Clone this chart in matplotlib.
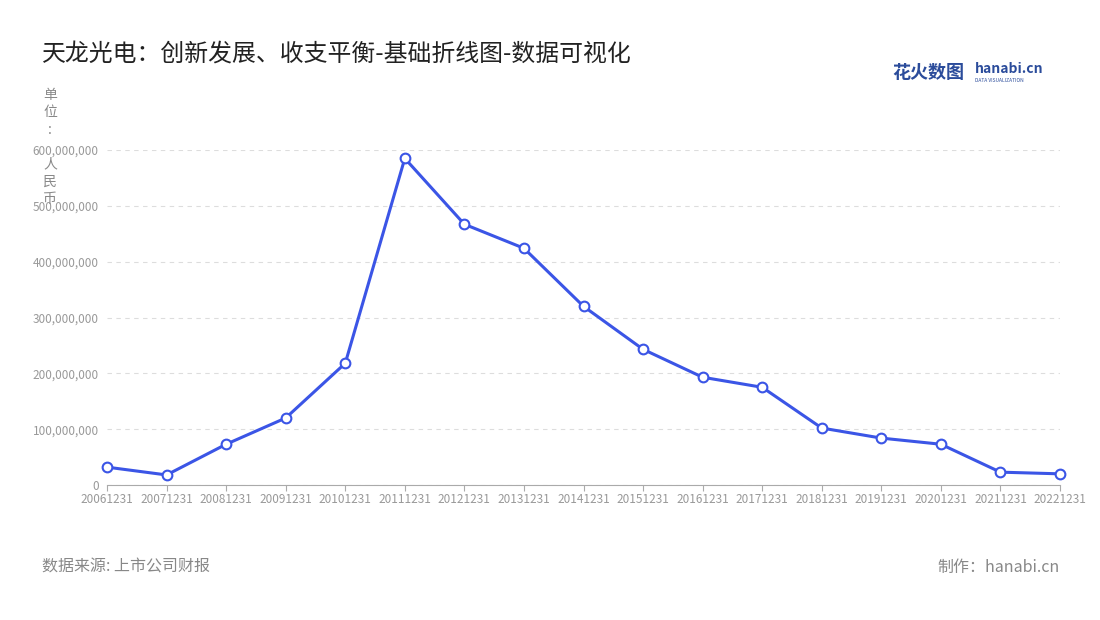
import matplotlib.pyplot as plt

plt.rcParams['font.family'] = ['Noto Sans CJK SC', 'DejaVu Sans']

dates = ["20061231", "20071231", "20081231", "20091231", "20101231", "20111231",
         "20121231", "20131231", "20141231", "20151231", "20161231", "20171231",
         "20181231", "20191231", "20201231", "20211231", "20221231"]
values = [32e6, 18e6, 73e6, 120e6, 218e6, 585e6, 467e6, 424e6, 320e6, 243e6,
          193e6, 175e6, 102e6, 84e6, 73e6, 23e6, 20e6]

fig = plt.figure(figsize=(11, 6.2), dpi=100)
ax = fig.add_axes([107 / 1100, 1 - 485 / 620, (1060 - 107) / 1100, (485 - 150) / 620])

x = list(range(len(dates)))
ax.plot(x, values, color="#3b55e6", lw=2.2, marker="o", ms=7,
        mfc="white", mec="#3b55e6", mew=1.5, zorder=3, clip_on=False)

ax.set_xlim(0, len(dates) - 1)
ax.set_ylim(0, 600e6)
ax.set_xticks(x)
ax.set_xticklabels(dates, fontsize=8.5, color="#999999")
ax.set_yticks([0, 100e6, 200e6, 300e6, 400e6, 500e6, 600e6])
ax.set_yticklabels(["0", "100,000,000", "200,000,000", "300,000,000",
                    "400,000,000", "500,000,000", "600,000,000"],
                   fontsize=8.5, color="#999999")
ax.grid(axis="y", color="#dddddd", ls=(0, (4, 4)), lw=0.8)
for s in ["top", "right", "left"]:
    ax.spines[s].set_visible(False)
ax.spines["bottom"].set_color("#aaaaaa")
ax.tick_params(axis="y", length=0, pad=6)
ax.tick_params(axis="x", length=4, color="#aaaaaa", pad=2)

fig.text(42 / 1100, 1 - 55 / 620, "天龙光电：创新发展、收支平衡-基础折线图-数据可视化",
         fontsize=17.2, color="#222222", va="center")
fig.text(50 / 1100, 1 - 88 / 620, "单\n位\n:\n\n人\n民\n币", fontsize=10,
         color="#888888", va="top", ha="center", linespacing=1.3)
fig.text(42 / 1100, 1 - 567 / 620, "数据来源: 上市公司财报", fontsize=11.5,
         color="#888888", va="center")
fig.text(1060 / 1100, 1 - 567 / 620, "制作：hanabi.cn", fontsize=11.5,
         color="#888888", va="center", ha="right")
fig.text(892 / 1100, 1 - 72 / 620, "花火数图", fontsize=13, color="#2b4c9b",
         va="center", fontweight="bold")
fig.text(975 / 1100, 1 - 69 / 620, "hanabi.cn", fontsize=10, color="#2b4c9b",
         va="center", fontweight="bold")
fig.text(975 / 1100, 1 - 80 / 620, "DATA VISUALIZATION", fontsize=3.5,
         color="#2b4c9b", va="center")

fig.savefig("out.png", dpi=100)
